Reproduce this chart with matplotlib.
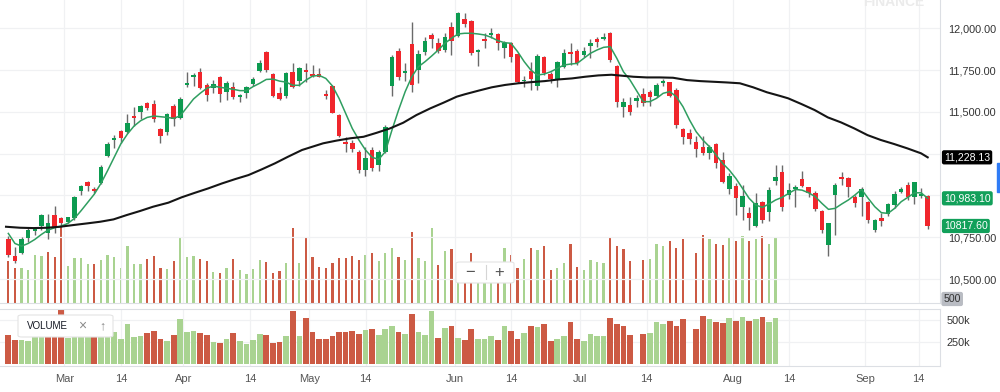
import numpy as np
import matplotlib.pyplot as plt
from matplotlib.patches import FancyBboxPatch, Rectangle
from matplotlib.lines import Line2D
from matplotlib.transforms import blended_transform_factory

plt.rcParams['font.family'] = ['Liberation Sans', 'DejaVu Sans']

# daily candles
opens = [10741, 10639, 10654, 10745, 10785, 10817, 10777, 10881, 10863, 10841,
         10863, 11026, 11080, 11040, 11072, 11236, 11332, 11385, 11379, 11475,
         11501, 11551, 11547, 11395, 11377, 11535, 11461, 11659, 11706, 11738,
         11661, 11641, 11708, 11619, 11647, 11587, 11615, 11667, 11744, 11860,
         11726, 11611, 11595, 11740, 11686, 11752, 11726, 11724, 11607, 11655,
         11481, 11322, 11316, 11262, 11152, 11272, 11182, 11262, 11655, 11866,
         11732, 11904, 11750, 11860, 11960, 11910, 11870, 12005, 11954, 12053,
         12045, 11860, 11936, 11960, 11966, 11880, 11910, 11846, 11683, 11746,
         11657, 11830, 11726, 11690, 11770, 11860, 11866, 11840, 11894, 11934,
         11934, 11970, 11774, 11531, 11541, 11565, 11605, 11617, 11595, 11673,
         11677, 11631, 11397, 11375, 11322, 11292, 11252, 11306, 11212, 11038,
         11058, 10933, 10897, 10819, 10963, 10899, 11088, 11142, 11003, 11036,
         11096, 11048, 11016, 10909, 10703, 11003, 11108, 11106, 10993, 10993,
         10963, 10793, 10867, 10887, 10943, 11022, 11062, 10993, 10999, 10997]
highs = [10757, 10693, 10749, 10803, 10803, 10887, 10887, 10937, 10873, 10873,
         10997, 11062, 11088, 11048, 11182, 11321, 11362, 11391, 11487, 11531,
         11541, 11557, 11571, 11401, 11495, 11547, 11587, 11740, 11734, 11760,
         11671, 11690, 11714, 11684, 11680, 11607, 11655, 11706, 11810, 11866,
         11730, 11647, 11740, 11794, 11766, 11790, 11780, 11760, 11631, 11661,
         11485, 11351, 11332, 11272, 11292, 11292, 11272, 11421, 11840, 11880,
         11790, 12039, 11870, 11950, 11970, 11940, 11970, 12039, 12099, 12093,
         12049, 11874, 11970, 11999, 11970, 11926, 11916, 11850, 11714, 11800,
         11844, 11834, 11740, 11806, 11874, 11914, 11874, 11890, 11934, 11946,
         11970, 11980, 11778, 11581, 11591, 11601, 11641, 11631, 11671, 11696,
         11680, 11641, 11401, 11395, 11355, 11355, 11302, 11312, 11262, 11136,
         11076, 11062, 10933, 11016, 10969, 11052, 11182, 11182, 11076, 11062,
         11148, 11052, 11026, 10913, 10837, 11072, 11142, 11112, 11003, 11048,
         10967, 10857, 10893, 10957, 11028, 11048, 11082, 11082, 11042, 11003]
lows = [10630, 10594, 10650, 10723, 10763, 10793, 10737, 10773, 10813, 10837,
        10853, 11003, 11028, 11012, 11068, 11232, 11282, 11316, 11375, 11415,
        11455, 11511, 11441, 11316, 11362, 11415, 11455, 11647, 11655, 11635,
        11565, 11611, 11557, 11571, 11577, 11557, 11581, 11655, 11740, 11740,
        11591, 11571, 11581, 11641, 11657, 11680, 11706, 11706, 11577, 11491,
        11351, 11262, 11258, 11132, 11116, 11148, 11148, 11256, 11595, 11690,
        11686, 11621, 11671, 11840, 11880, 11854, 11860, 11840, 11950, 12005,
        11840, 11774, 11880, 11940, 11870, 11820, 11800, 11671, 11647, 11631,
        11631, 11720, 11671, 11651, 11760, 11780, 11780, 11830, 11820, 11890,
        11930, 11800, 11527, 11467, 11481, 11527, 11535, 11535, 11591, 11655,
        11591, 11405, 11308, 11308, 11232, 11242, 11216, 11162, 11076, 11008,
        10883, 10853, 10793, 10813, 10837, 10849, 11062, 10909, 10977, 10929,
        11052, 10993, 10909, 10777, 10638, 10763, 11062, 10993, 10929, 10877,
        10837, 10780, 10819, 10877, 10923, 11012, 10973, 10949, 10983, 10797]
closes = [10644, 10608, 10741, 10793, 10797, 10883, 10837, 10813, 10837, 10869,
          10989, 11056, 11056, 11024, 11168, 11305, 11346, 11344, 11431, 11461,
          11535, 11521, 11459, 11355, 11487, 11455, 11577, 11675, 11718, 11643,
          11601, 11665, 11607, 11671, 11587, 11601, 11647, 11694, 11794, 11750,
          11597, 11575, 11730, 11647, 11760, 11740, 11712, 11710, 11597, 11495,
          11355, 11306, 11280, 11152, 11222, 11162, 11258, 11407, 11830, 11710,
          11744, 11661, 11846, 11926, 11934, 11866, 11950, 11926, 12093, 12025,
          11850, 11870, 11926, 11970, 11910, 11914, 11826, 11677, 11690, 11694,
          11836, 11730, 11698, 11796, 11850, 11844, 11790, 11866, 11914, 11918,
          11950, 11810, 11561, 11557, 11501, 11585, 11555, 11591, 11661, 11686,
          11597, 11421, 11351, 11335, 11276, 11256, 11288, 11192, 11082, 11118,
          10983, 10999, 10867, 10953, 10853, 11032, 11112, 10929, 11032, 11048,
          11058, 11016, 10917, 10793, 10833, 11062, 11098, 11048, 10953, 11036,
          10853, 10853, 10849, 10949, 11007, 11038, 10989, 11078, 11007, 10817.6]

# volume (thousands); the feed stops before the last candles, 0 = missing day
volume_k = [337, 279, 279, 265, 385, 377, 407, 369, 614, 297,
            364, 364, 311, 316, 343, 383, 369, 284, 458, 311,
            316, 356, 377, 284, 270, 337, 519, 369, 377, 356,
            337, 249, 243, 284, 351, 262, 230, 276, 343, 329,
            243, 257, 321, 600, 321, 530, 369, 289, 284, 321,
            364, 364, 377, 343, 385, 399, 335, 399, 439, 369,
            343, 568, 364, 335, 600, 303, 415, 431, 301, 271,
            402, 290, 290, 316, 271, 439, 383, 282, 357, 439,
            427, 458, 263, 282, 319, 475, 290, 263, 346, 327,
            319, 524, 458, 431, 335, 0, 346, 357, 475, 458,
            494, 439, 513, 0, 402, 550, 513, 475, 469, 531,
            494, 539, 494, 513, 542, 475, 531]
volume_dir = ('rrggggrrrggggrgggggggrrrgrgggrrgrgrggggrrrgrgrrrrrrrrrgrgggrgrgggrgrgrrgggrgrrgrgrrggrrggggrrrr-rgggrrr-rrgrrgrgrgrgg')

# moving averages
ma_fast = [10773, 10713, 10697, 10713, 10737, 10767, 10793, 10807, 10817, 10833,
           10863, 10909, 10959, 11008, 11072, 11148, 11228, 11308, 11367, 11415,
           11447, 11467, 11475, 11471, 11467, 11461, 11477, 11527, 11577, 11611,
           11641, 11655, 11647, 11641, 11635, 11627, 11627, 11651, 11671, 11694,
           11696, 11684, 11678, 11659, 11659, 11690, 11714, 11718, 11700, 11655,
           11581, 11491, 11401, 11332, 11272, 11228, 11216, 11262, 11391, 11511,
           11621, 11710, 11770, 11800, 11834, 11870, 11910, 11940, 11966, 11970,
           11970, 11966, 11960, 11946, 11926, 11914, 11910, 11860, 11800, 11750,
           11720, 11726, 11740, 11760, 11780, 11786, 11790, 11820, 11850, 11870,
           11886, 11890, 11820, 11740, 11690, 11625, 11561, 11561, 11581, 11611,
           11621, 11591, 11531, 11451, 11381, 11332, 11292, 11242, 11192, 11152,
           11102, 11042, 10983, 10943, 10929, 10949, 10973, 10989, 11013, 11036,
           11032, 11016, 10993, 10953, 10917, 10923, 10949, 10973, 11003, 11036,
           10983, 10933, 10897, 10893, 10923, 10963, 10989, 11016, 11016, 10983.1]
ma_slow_idx = [-0.35, 1.8, 3.8, 5.8, 7.8, 9.8, 11.9, 13.9, 15.9, 17.9, 19.9, 21.9,
               24.2, 26.2, 28.2, 30.2, 32.3, 34.3, 36.3, 38.3, 40.3, 42.3, 44.4,
               47.6, 49.6, 51.7, 53.7, 55.7, 57.7, 59.7, 61.7, 63.8, 65.8, 67.8,
               69.0, 71.1, 73.1, 75.1, 77.1, 79.1, 81.1, 83.2, 85.2, 87.2, 89.2, 91.2,
               94.5, 96.5, 98.5, 100.5, 102.6, 104.6, 106.6, 108.6, 110.6, 112.6, 114.7,
               116.7, 117.9, 119.9, 121.9, 123.9, 125.9, 127.9, 129.9, 131.9, 133.9,
               135.9, 138.0, 139]
ma_slow = [10813, 10807, 10805, 10807, 10813, 10823, 10833, 10843, 10857, 10883, 10907, 10933,
           10957, 10989, 11016, 11042, 11072, 11098, 11122, 11156, 11192, 11232, 11272,
           11312, 11328, 11342, 11351, 11375, 11401, 11435, 11481, 11521, 11555, 11591,
           11605, 11627, 11647, 11661, 11671, 11678, 11684, 11694, 11700, 11710, 11718, 11722,
           11710, 11706, 11706, 11704, 11690, 11684, 11680, 11676, 11671, 11647, 11617,
           11595, 11581, 11547, 11511, 11467, 11437, 11401, 11361, 11332, 11308,
           11282, 11252, 11228.13]

tick_pos = [8.46, 17.03, 26.48, 36.61, 45.5, 54.02, 67.47, 76.05, 86.43,
            96.49, 109.49, 118.0, 129.52, 137.61]
tick_labels = ['Mar', '14', 'Apr', '14', 'May', '14', 'Jun', '14', 'Jul',
               '14', 'Aug', '14', 'Sep', '14']
price_ticks = [10500, 10750, 11000, 11250, 11500, 11750, 12000]
hidden_ticks = [11000, 11250]   # sit under the price tags

UP, DOWN = '#0c9b50', '#f0262c'
VOL_UP, VOL_DOWN = '#a9d391', '#cc5a44'
GRID = '#f0f1f3'
BORDER = '#dcdfe4'
XLIM = (-1.26, 140.86)

o, h, l, c = map(np.array, (opens, highs, lows, closes))
x = np.arange(len(o))
xv = np.arange(len(volume_k))
vcol = [VOL_UP if d == 'g' else VOL_DOWN for d in volume_dir]

fig = plt.figure(figsize=(10, 3.92), dpi=100)
main_rect = [0, 89 / 392, 0.94, 303 / 392]

# volume overlay sits behind the candles
ax_vol = fig.add_axes(main_rect)
ax_vol.bar(xv, volume_k, width=0.34, color=vcol, linewidth=0)
ax_vol.set_xlim(*XLIM)
ax_vol.set_ylim(0, 2433)
ax_vol.set_axis_off()

ax = fig.add_axes(main_rect)
ax.patch.set_visible(False)
ax.vlines(x, l, h, color='#6a6a6a', lw=1, zorder=2)
ccol = np.where(c >= o, UP, DOWN)
ax.bar(x, np.maximum(np.abs(c - o), 8), bottom=np.minimum(o, c), width=0.68,
       color=ccol, linewidth=0, zorder=3)
ax.plot(x, ma_fast, color='#2f9e60', lw=1.1, zorder=4)
ax.plot(ma_slow_idx, ma_slow, color='#151515', lw=1.5, zorder=4)
ax.set_xlim(*XLIM)
ax.set_ylim(10357, 12169)
ax.set_xticks(tick_pos)
ax.tick_params(axis='x', length=0, labelbottom=False)
ax.yaxis.tick_right()
ax.set_yticks(price_ticks)
ax.set_yticklabels(['' if v in hidden_ticks else f'{v:,.2f}' for v in price_ticks])
ax.tick_params(axis='y', length=0, pad=6, labelsize=7.8, labelcolor='#333333')
ax.grid(True, color=GRID, lw=0.9)
ax.set_axisbelow(True)
for s in ('top', 'left'):
    ax.spines[s].set_visible(False)
for s in ('right', 'bottom'):
    ax.spines[s].set_color(BORDER)

# price tags on the right
trans = blended_transform_factory(ax.transAxes, ax.transData)
for val, txt, fc in [(11228.13, '11,228.13', '#000000'),
                     (10983.10, '10,983.10', '#12a05a'),
                     (10817.60, '10817.60', '#12a05a')]:
    ax.text(1 + 4 / 940, val, txt, transform=trans, ha='left', va='center',
            color='white', fontsize=7.6, clip_on=False, zorder=10,
            bbox=dict(boxstyle='round,pad=0.2,rounding_size=0.2', fc=fc, ec='none'))

# volume pane
ax_pan = fig.add_axes([0, 26 / 392, 0.94, 57 / 392])
ax_pan.bar(xv, volume_k, width=0.86, color=vcol, linewidth=0, zorder=2)
ax_pan.set_xlim(*XLIM)
ax_pan.set_ylim(-19, 628)
ax_pan.set_xticks(tick_pos)
ax_pan.set_xticklabels(tick_labels)
ax_pan.tick_params(axis='x', length=0, pad=6, labelsize=8, labelcolor='#555555')
ax_pan.yaxis.tick_right()
ax_pan.set_yticks([250, 500])
ax_pan.set_yticklabels(['250k', '500k'])
ax_pan.tick_params(axis='y', length=0, pad=5, labelsize=7.8, labelcolor='#333333')
ax_pan.grid(True, color=GRID, lw=0.9)
ax_pan.set_axisbelow(True)
ax_pan.spines['left'].set_visible(False)
for s in ('top', 'right', 'bottom'):
    ax_pan.spines[s].set_color(BORDER)

# little widgets drawn on the figure
fig.text(0.9435, 1 - 299 / 392, '500', ha='left', va='center', fontsize=7.6,
         color='#333333', bbox=dict(boxstyle='round,pad=0.2', fc='#b9bcc3', ec='none'))
fig.add_artist(Rectangle((0.997, 1 - 192 / 392), 0.003, 29 / 392,
                         transform=fig.transFigure, color='#2f7cf6'))
fig.text(0.894, 1 - 6.5 / 392, 'FINANCE', ha='center', va='baseline',
         fontsize=10, color='#ebebeb', weight='bold')

fig.add_artist(FancyBboxPatch((0.018, 1 - 337 / 392), 0.095, 22 / 392,
                              boxstyle='round,pad=0,rounding_size=0.004',
                              transform=fig.transFigure, fc='white', ec='#e4e4e4', lw=0.8))
fig.text(0.027, 1 - 326 / 392, 'VOLUME', ha='left', va='center', fontsize=7,
         color='#131722')
fig.text(0.082, 1 - 326 / 392, '×', ha='center', va='center', fontsize=10,
         color='#8a8a8a')
fig.text(0.102, 1 - 326 / 392, '↑', ha='center', va='center', fontsize=9,
         color='#8a8a8a')

fig.add_artist(FancyBboxPatch((0.456, 1 - 283 / 392), 0.058, 21 / 392,
                              boxstyle='round,pad=0,rounding_size=0.004',
                              transform=fig.transFigure, fc='white', ec='#e4e4e4', lw=0.8))
fig.text(0.470, 1 - 272 / 392, '−', ha='center', va='center', fontsize=12,
         color='#555555')
fig.text(0.499, 1 - 272 / 392, '+', ha='center', va='center', fontsize=12,
         color='#555555')
fig.add_artist(Line2D([0.4855, 0.4855], [1 - 279 / 392, 1 - 265 / 392],
                      transform=fig.transFigure, color='#d5d5d5', lw=0.8))

fig.savefig('out.png', dpi=100)
